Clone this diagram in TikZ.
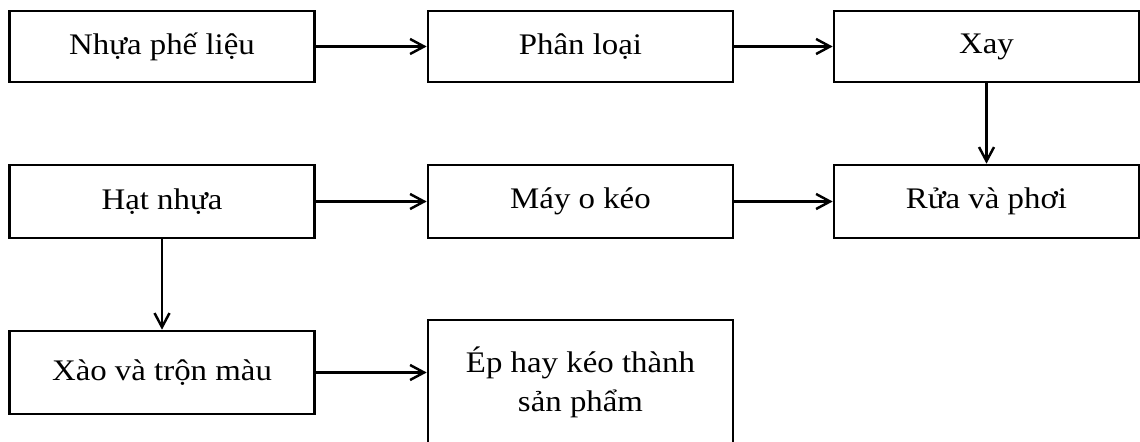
\documentclass[tikz,border=0pt]{standalone}
\usepackage{fontspec}
\setmainfont{Liberation Serif}[FakeStretch=1.1]
\usetikzlibrary{arrows.meta,positioning}
\tikzset{>={Straight Barb[length=2.8mm,width=3mm]}}
\tikzset{
  stage/.style={draw, line width=1.5pt, minimum width=6.1cm, inner sep=0pt,
    align=center, font=\fontsize{17}{22}\selectfont},
  flow/.style={->, line width=1.4pt}
}

\begin{document}
\begin{tikzpicture}
      \def\colA{3.24}   % x of the three columns
      \def\colB{11.61}
      \def\colC{19.73}
      \useasboundingbox (0,0) rectangle (22.8,-8.84);
      \clip (0,0) rectangle (22.8,-8.84);
      % first row
      \node[stage, minimum height=1.42cm] (nhua) at (\colA,-0.93) {Nhựa phế liệu};
      \node[stage, minimum height=1.42cm] (phanloai) at (\colB,-0.93) {Phân loại};
      \node[stage, minimum height=1.42cm] (xay) at (\colC,-0.93) {Xay};
      % second row
      \node[stage, minimum height=1.46cm] (hat) at (\colA,-4.03) {Hạt nhựa};
      \node[stage, minimum height=1.46cm] (mayo) at (\colB,-4.03) {Máy o kéo};
      \node[stage, minimum height=1.46cm] (rua) at (\colC,-4.03) {Rửa và phơi};
      % third row
      \node[stage, minimum height=1.66cm] (xao) at (\colA,-7.45) {Xào và trộn màu};
      \node[stage, minimum height=2.5cm] (ep) at (\colB,-7.65) {Ép hay kéo thành\\sản phẩm};
      %
      \draw[flow] (nhua) -- (phanloai);
      \draw[flow] (phanloai) -- (xay);
      \draw[flow] (xay) -- (rua);
      \draw[flow] (hat) -- (mayo);
      \draw[flow] (mayo) -- (rua);
      \draw[flow] (hat) -- (xao);
      \draw[flow] (xao.east) -- (xao.east -| ep.west);
    \end{tikzpicture}
\end{document}
